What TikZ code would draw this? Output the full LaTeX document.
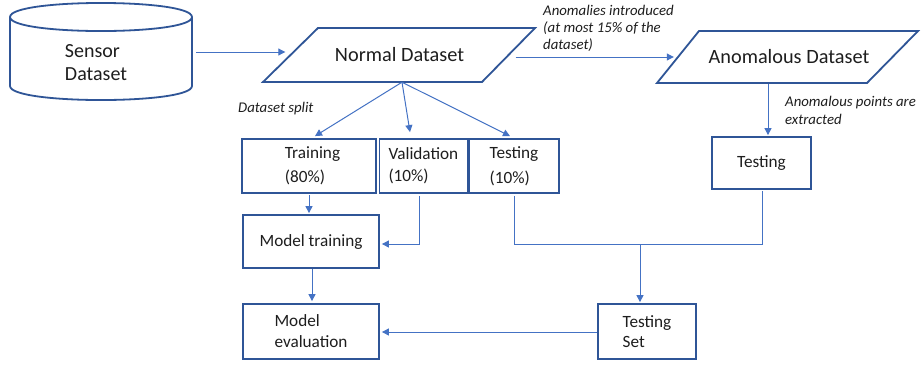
\documentclass[tikz,border=0pt]{standalone}
\usepackage{fontspec}
\setmainfont{Carlito}
\usetikzlibrary{calc,arrows.meta}
\definecolor{boxc}{HTML}{2F5597}
\definecolor{arrc}{HTML}{4472C4}
\definecolor{txt}{HTML}{1E1E1E}
\begin{document}
\begin{tikzpicture}[x=1pt,y=-1pt,
  box/.style={draw=boxc, line width=1.8pt, inner sep=0pt, text=txt,
    font=\fontsize{17.2}{24}\selectfont},
  ghost/.style={inner sep=0pt, text=txt},
  shapeline/.style={draw=boxc, line width=1.8pt, line join=miter},
  lab/.style={inner sep=0pt, anchor=west, align=left, text=txt,
    font=\fontsize{14.8}{17}\selectfont\itshape},
  wire/.style={draw=arrc, line width=1pt},
  conn/.style={wire, -{Triangle[length=7pt,width=7pt]}}
]
\fill[white] (0,0) rectangle (924,368);
\useasboundingbox (0,0) rectangle (924,368);

% cylinder
\draw[shapeline] (10,17) .. controls (10,-1.7) and (192,-1.7) .. (192,17)
  .. controls (192,35.7) and (10,35.7) .. (10,17) -- cycle;
\draw[shapeline] (10,17) -- (10,86) .. controls (10,104.7) and (192,104.7) .. (192,86) -- (192,17);
\node[ghost, minimum width=182pt, align=left, font=\fontsize{20}{23}\selectfont] (sensor) at (96,63) {Sensor\\Dataset};

% parallelograms
\draw[shapeline] (318,28) -- (535,28) -- (482,82) -- (263,82) -- cycle;
\node[ghost, minimum width=218pt, minimum height=54pt, font=\fontsize{20.3}{23}\selectfont] (normal) at (399.5,55) {Normal Dataset};

\draw[shapeline] (699,31) -- (918,31) -- (867,83) -- (657,83) -- cycle;
\node[ghost, minimum width=218pt, minimum height=52pt, font=\fontsize{20.3}{23}\selectfont] (anom) at (789,57) {Anomalous Dataset};

% boxes
\node[box, minimum width=134pt, minimum height=54pt, align=left] (train) at (309,166) {\hspace*{7pt}Training\\\hspace*{7pt}(80\%)};
\node[box, minimum width=88pt, minimum height=54pt, align=left, font=\fontsize{17.2}{22}\selectfont] (valid) at (423.4,166) {Validation\\(10\%)};
\node[box, minimum width=90pt, minimum height=54pt, align=left, font=\fontsize{17.2}{25}\selectfont] (test) at (514,166) {Testing\\(10\%)};
\node[box, minimum width=99pt, minimum height=52pt] (testR) at (761.5,163) {Testing};
\node[box, minimum width=136pt, minimum height=53pt] (modeltrain) at (311,241.5) {Model training};
\node[box, minimum width=136pt, minimum height=55pt, align=left, font=\fontsize{17.2}{21}\selectfont] (modeleval) at (311,331.5) {Model\\evaluation};
\node[box, minimum width=98pt, minimum height=55pt, align=left, font=\fontsize{17.2}{20}\selectfont] (testset) at (647,331.5) {Testing\\Set};

% labels
\node[lab] (lsplit) at (238,109) {Dataset split};
\node[lab] (lanom) at (543,28) {Anomalies introduced\\(at most 15\% of the\\dataset)};
\node[lab, font=\fontsize{14.8}{18}\selectfont\itshape] (lpts) at (785,110) {Anomalous points are\\extracted};

% connectors
\draw[conn] ($(sensor.east)+(9,-11)$) -- ($(normal.west)+(-5,-3)$);
\draw[conn] ($(normal.east)+(7,2)$) -- ($(anom.west)+(-6,0)$);
\draw[conn] ($(normal.south)+(2.5,0)$) -- ($(train.north)+(6,-2)$);
\draw[conn] ($(normal.south)+(2.5,0)$) -- ($(valid.north)+(-13.4,-6)$);
\draw[conn] ($(normal.south)+(2.5,0)$) -- ($(test.north)+(-4,-2)$);
\draw[conn] ($(anom.south)+(-21,1)$) -- ($(testR.north)+(6.5,-1)$);
\draw[conn] ($(train.south)+(0,1)$) -- ($(train.south |- modeltrain.north)+(0,-1)$);
\draw[conn] ($(valid.south)+(-4.4,2)$) |- ($(modeltrain.east)+(2,2.5)$);
\coordinate (join) at (640,244);
\draw[wire] ($(test.south)+(0,2)$) |- (join);
\draw[wire] ($(testR.south)+(0.5,1)$) |- (join);
\draw[conn] (join) -- ($(join |- testset.north)+(0,-1)$);
\draw[conn] ($(modeltrain.south)+(1,0)$) -- ($(modeleval.north)+(1,-2)$);
\draw[conn] ($(testset.west)+(0,0.5)$) -- ($(modeleval.east)+(2,0.5)$);
\end{tikzpicture}
\end{document}
